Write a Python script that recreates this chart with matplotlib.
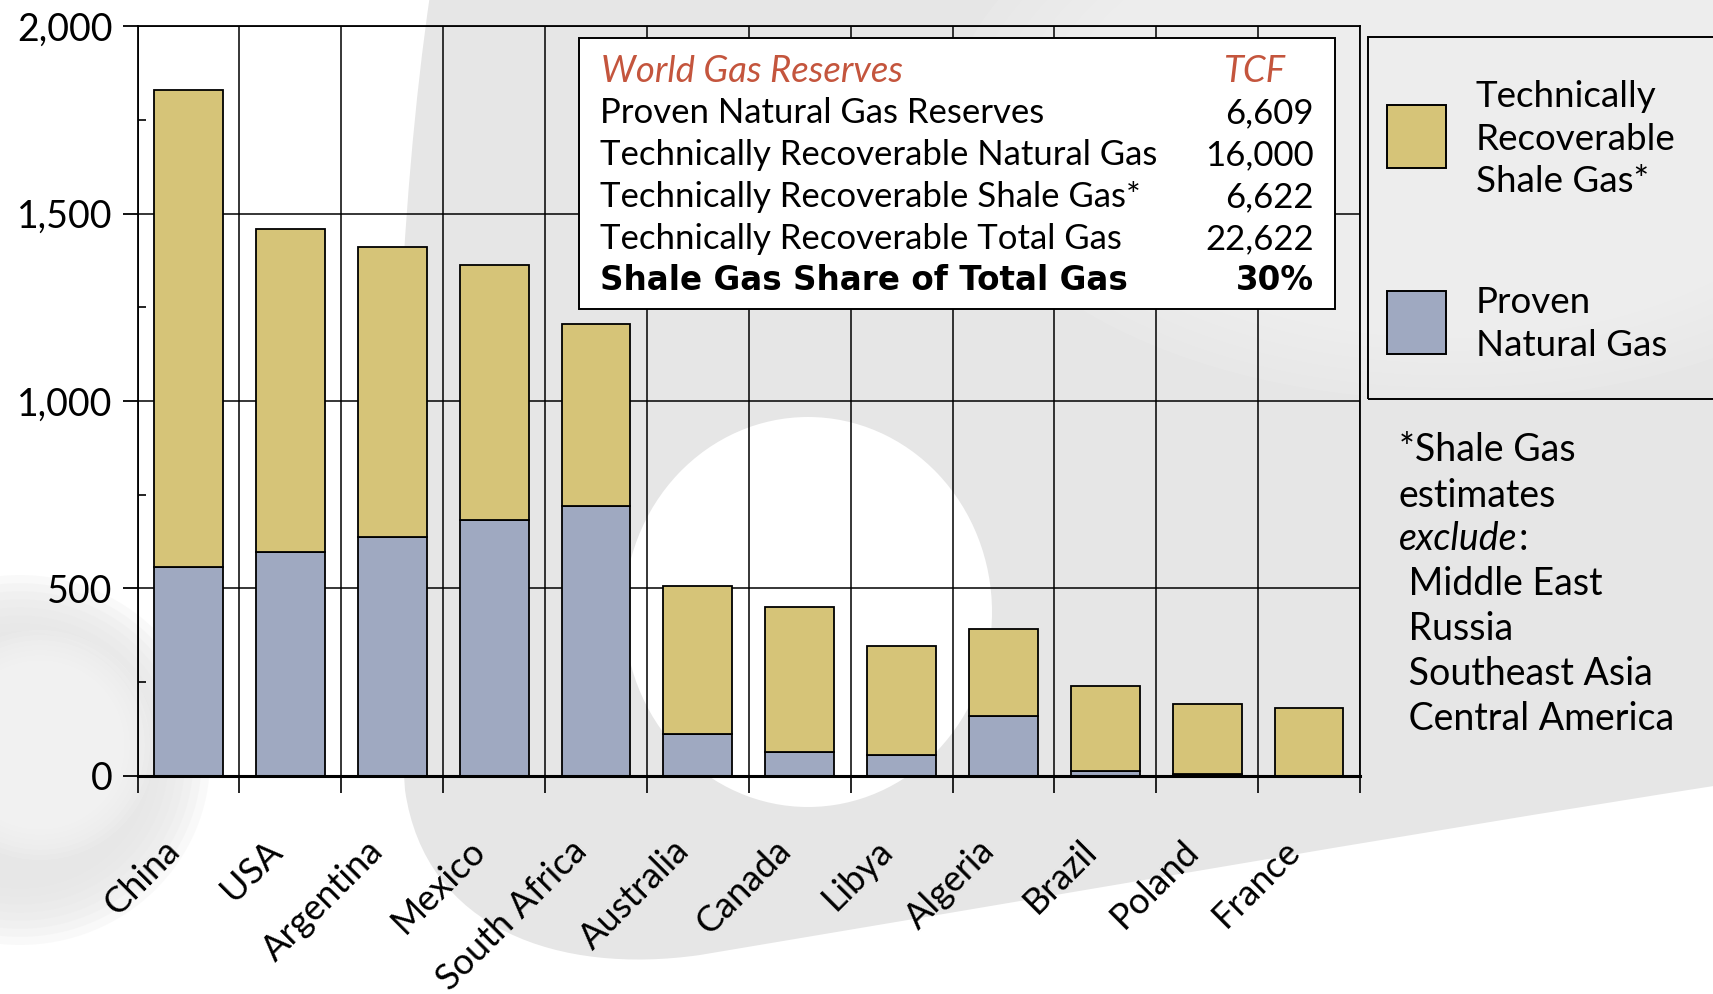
import matplotlib
matplotlib.use('Agg')
import matplotlib.pyplot as plt
from matplotlib.patches import Ellipse, Rectangle, PathPatch
from matplotlib.path import Path
from matplotlib.transforms import offset_copy, IdentityTransform
import numpy as np

# ---------------- data ----------------
countries = ['China', 'USA', 'Argentina', 'Mexico', 'South Africa', 'Australia',
             'Canada', 'Libya', 'Algeria', 'Brazil', 'Poland', 'France']
proven = [556, 596, 637, 681, 719, 111, 62, 55, 159, 13, 5, 0]
shale = [1275, 862, 774, 681, 485, 396, 388, 290, 231, 226, 187, 180]
yticks = [0, 500, 1000, 1500, 2000]
ytick_labels = ['0', '500', '1,000', '1,500', '2,000']
yminor = [250, 750, 1250, 1750]

table_title = 'World Gas Reserves'
table_unit = 'TCF'
table_labels = ['Proven Natural Gas Reserves',
                'Technically Recoverable Natural Gas',
                'Technically Recoverable Shale Gas*',
                'Technically Recoverable Total Gas',
                'Shale Gas Share of Total Gas']
table_values = ['6,609', '16,000', '6,622', '22,622', '30%']

legend_labels = ['Technically\nRecoverable\nShale Gas*', 'Proven\nNatural Gas']
footnote_lines = ['*Shale Gas', 'estimates', 'exclude', ' Middle East', ' Russia',
                  ' Southeast Asia', ' Central America']

GOLD = '#d6c478'
BLUE = '#9fa9c1'
RED = '#c4553d'

plt.rcParams['font.family'] = ['Lato', 'DejaVu Sans']

W, H = 1713, 994
fig = plt.figure(figsize=(W / 100, H / 100), dpi=100)
fig.patch.set_facecolor('white')


def fx(px):
    return px / W


def fy(py):
    return 1 - py / H


# ---------------- decorative background (pixel coords, y down) ----------------
def ell(cx, cy, w, h, color, z=-5, alpha=1.0):
    e = Ellipse((fx(cx), fy(cy)), w / W, h / H, transform=fig.transFigure,
                facecolor=color, edgecolor='none', zorder=z, alpha=alpha)
    fig.add_artist(e)


def soft_ell(cx, cy, w, h, color, z, steps=8):
    for k in range(steps):
        f = 1 - 0.35 * k / steps
        ell(cx, cy, w * f, h * f, color, z, alpha=1.0 / steps * 1.6)


def shape(pts, codes, color, z):
    verts = [(px, H - py) for px, py in pts]
    p = PathPatch(Path(verts, codes), transform=IdentityTransform(),
                  facecolor=color, edgecolor='none', zorder=z)
    fig.add_artist(p)

M, C, L, Z = Path.MOVETO, Path.CURVE4, Path.LINETO, Path.CLOSEPOLY
shape([(430, -5), (400, 200), (385, 500), (405, 790),
       (425, 930), (560, 975), (700, 955),
       (1000, 905), (1400, 835), (1720, 785),
       (1720, -5), (430, -5)],
      [M, C, C, C, C, C, C, C, C, C, L, Z], '#e6e6e6', -7)
soft_ell(1450, 120, 1000, 560, '#f2f2f2', -6)
ell(808, 612, 368, 390, '#ffffff', -5)
soft_ell(20, 760, 380, 370, '#e4e4e4', -6)
soft_ell(40, 745, 230, 230, '#f6f6f6', -5)

# ---------------- axes ----------------
ax = fig.add_axes([fx(137.6), fy(775.6), (1360 - 137.6) / W, (775.6 - 26.2) / H])
ax.patch.set_alpha(0)
ax.set_xlim(-0.5, len(countries) - 0.5)
ax.set_ylim(0, 2000)

x = np.arange(len(countries))
boundaries = np.arange(-0.5, len(countries), 1)

for y in yticks[1:]:
    ax.axhline(y, color='black', lw=1.1, zorder=0.8)
for b in boundaries:
    ax.axvline(b, color='black', lw=1.1, zorder=0.8)

ax.bar(x, proven, width=0.675, color=BLUE, edgecolor='black', lw=1.3, zorder=2)
ax.bar(x, shale, bottom=proven, width=0.675, color=GOLD, edgecolor='black', lw=1.3, zorder=2)

ax.set_yticks(yticks)
ax.set_yticklabels(ytick_labels)
ax.set_yticks(yminor, minor=True)
ax.set_xticks(x)
ax.set_xticklabels([])
ax.set_xticks(boundaries, minor=True)

ax.tick_params(axis='y', which='major', direction='out', length=11, width=1.3,
               labelsize=27, pad=7)
ax.tick_params(axis='y', which='minor', direction='in', length=6, width=1.2)
ax.tick_params(axis='x', which='major', direction='in', length=9, width=1.2)
ax.tick_params(axis='x', which='minor', direction='out', length=12, width=1.2)

for s in ['left', 'top', 'right']:
    ax.spines[s].set_linewidth(1.3)
ax.spines['bottom'].set_linewidth(2.2)

for i, c in enumerate(countries):
    tr = offset_copy(ax.get_xaxis_transform(), fig=fig, x=-26, y=-58, units='dots')
    ax.text(i, 0, c, transform=tr, rotation=45, ha='right', va='top',
            rotation_mode='anchor', fontsize=26)

# ---------------- table box ----------------
fig.add_artist(Rectangle((fx(579), fy(309)), (1335 - 579) / W, (309 - 38) / H,
                         transform=fig.transFigure, facecolor='white',
                         edgecolor='black', lw=1.4, zorder=3))
fig.text(fx(601), fy(71), table_title, color=RED, fontsize=26.3, style='italic',
         va='center', ha='left', zorder=4)
fig.text(fx(1286), fy(71), table_unit, color=RED, fontsize=26.3, style='italic',
         va='center', ha='right', zorder=4)
row_y = [113, 155, 197, 239, 280]
for k, (lab, val, yy) in enumerate(zip(table_labels, table_values, row_y)):
    if k == len(table_labels) - 1:
        kw = dict(family=['DejaVu Sans'], fontweight='bold', fontsize=23.5)
    else:
        kw = dict(fontsize=25)
    fig.text(fx(600), fy(yy), lab, va='center', ha='left', zorder=4, **kw)
    fig.text(fx(1314), fy(yy), val, va='center', ha='right', zorder=4, **kw)

# ---------------- legend ----------------
fig.add_artist(Rectangle((fx(1368), fy(399)), (1760 - 1368) / W, (399 - 37) / H,
                         transform=fig.transFigure, facecolor='none',
                         edgecolor='black', lw=1.4, zorder=3))
fig.add_artist(Rectangle((fx(1387), fy(168)), 59 / W, 63 / H, transform=fig.transFigure,
                         facecolor=GOLD, edgecolor='black', lw=1.4, zorder=4))
fig.add_artist(Rectangle((fx(1387), fy(354)), 59 / W, 63 / H, transform=fig.transFigure,
                         facecolor=BLUE, edgecolor='black', lw=1.4, zorder=4))
fig.text(fx(1476), fy(139), legend_labels[0], fontsize=26.5, va='center', ha='left',
         linespacing=1.34, zorder=4)
fig.text(fx(1476), fy(324), legend_labels[1], fontsize=26.5, va='center', ha='left',
         linespacing=1.34, zorder=4)

# ---------------- footnote ----------------
foot_y = [450, 496, 539, 584, 629, 674, 719]
renderer = fig.canvas.get_renderer()
for line, yy in zip(footnote_lines, foot_y):
    if line == 'exclude':
        t = fig.text(fx(1399), fy(yy), line, fontsize=27, style='italic',
                     va='center', ha='left')
        bb = t.get_window_extent(renderer)
        fig.text(bb.x1 / W + 1 / W, fy(yy), ':', fontsize=27, va='center', ha='left')
    else:
        fig.text(fx(1399), fy(yy), line, fontsize=27, va='center', ha='left')

fig.savefig('out.png', dpi=100)
